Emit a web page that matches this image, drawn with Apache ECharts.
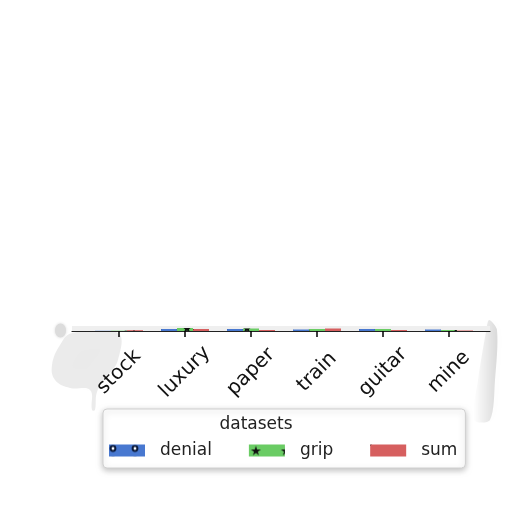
<!DOCTYPE html>
<html><head><meta charset="utf-8">
<script src="https://cdn.jsdelivr.net/npm/echarts@6/dist/echarts.min.js"></script>
<style>html,body{margin:0;padding:0;background:#fff}#c{width:512px;height:512px}</style>
</head><body><div id="c"></div>
<script>
var categories = ['stock','luxury','paper','train','guitar','mine'];
var denial = [0.2, 2.0, 2.0, 1.5, 2.0, 1.5];
var grip = [0.3, 3.0, 2.5, 2.0, 2.0, 1.0];
var sum = [0.8, 2.0, 1.0, 2.5, 1.0, 0.5];
var seriesNames = ['denial','grip','sum'];
var colors = ['#4878d0','#6acc64','#d65f5f'];
var FONT = 'DejaVu Sans';
var starPath = 'path://M50,0 L61,35 L98,35 L68,57 L79,91 L50,70 L21,91 L32,57 L2,35 L39,35 Z';
var decals = [
  {symbol: 'emptyCircle', color: '#0b1a3a', symbolSize: 0.6, dashArrayX: [[8, 14]], dashArrayY: [8, 4], rotation: 0},
  {symbol: starPath, color: '#111', symbolSize: 0.8, dashArrayX: [[14, 16]], dashArrayY: [12, 2], rotation: 0},
  {symbol: 'rect', color: 'rgba(0,0,0,0.6)', symbolSize: 1, dashArrayX: [[1, 0]], dashArrayY: [1, 40], rotation: -0.785}
];
var chart = echarts.init(document.getElementById('c'));
var data = [denial, grip, sum];
chart.setOption({
  animation: false,
  textStyle: {fontFamily: FONT},
  title: {text: 'datasets', left: 'center', top: 416, textStyle: {fontFamily: FONT, fontSize: 17, fontWeight: 'normal', color: '#222'}, padding: 0, itemGap: 0},
  graphic: [
    {type: 'ellipse', shape: {cx: 60.5, cy: 330.5, rx: 5.5, ry: 7}, style: {fill: '#dcdcdc', shadowBlur: 3, shadowColor: 'rgba(0,0,0,0.15)'}, z: -1, silent: true},
    {type: 'polygon', shape: {points: [[72, 333], [118, 333], [118, 360], [106, 378], [97, 392], [95, 410], [92, 410], [90, 390], [70, 388], [55, 380], [52, 365], [60, 345]], smooth: 0.4},
     style: {fill: 'rgba(0,0,0,0.08)', shadowBlur: 16, shadowColor: 'rgba(0,0,0,0.12)'}, z: -1, silent: true},
    {type: 'polygon', shape: {points: [[489, 320], [497, 330], [495, 380], [490, 420], [474, 420], [478, 380], [486, 332]], smooth: 0.3},
     style: {fill: {type: 'linear', x: 1, y: 0, x2: 0, y2: 0, colorStops: [{offset: 0, color: 'rgba(0,0,0,0.14)'}, {offset: 1, color: 'rgba(0,0,0,0)'}]}, shadowBlur: 10, shadowColor: 'rgba(0,0,0,0.08)'}, z: -1, silent: true}
  ],
  grid: [
    {left: 72, right: 22, top: 326, bottom: 181, show: true, backgroundColor: '#efefef', borderWidth: 0},
    {left: 86, right: 30, top: 326, bottom: 181}
  ],
  xAxis: [
    {gridIndex: 0, type: 'value', min: 0, max: 1, axisLine: {show: true, lineStyle: {color: '#222', width: 1.2}}, axisTick: {show: false}, axisLabel: {show: false}, splitLine: {show: false}},
    {gridIndex: 1, type: 'category', data: categories, axisLine: {show: true, lineStyle: {color: '#222', width: 1.2}},
     axisTick: {show: true, alignWithLabel: true, inside: false, length: 6, lineStyle: {color: '#000', width: 1.5}},
     axisLabel: {rotate: 45, fontSize: 20, color: '#111', margin: 41, align: 'center', verticalAlign: 'middle', fontFamily: FONT}}
  ],
  yAxis: [
    {gridIndex: 0, type: 'value', show: false, min: 0, max: 5},
    {gridIndex: 1, type: 'value', show: false, min: 0, max: 5}
  ],
  legend: {
    data: seriesNames, left: 103, top: 409, width: 400,
    padding: [33, 8, 9, 6], itemGap: 37, itemWidth: 36, itemHeight: 12,
    textStyle: {fontSize: 17, color: '#222', fontFamily: FONT, padding: [0,0,0,10]},
    backgroundColor: '#fff', borderColor: '#d0d0d0', borderWidth: 1, borderRadius: 4,
    shadowColor: 'rgba(0,0,0,0.25)', shadowBlur: 6, shadowOffsetY: 2,
    icon: 'rect'
  },
  series: seriesNames.map(function(n, i){
    return {name: n, type: 'bar', xAxisIndex: 1, yAxisIndex: 1, data: data[i],
      barWidth: 16, barGap: '0%', itemStyle: {color: colors[i], decal: decals[i]}};
  })
});
</script></body></html>
